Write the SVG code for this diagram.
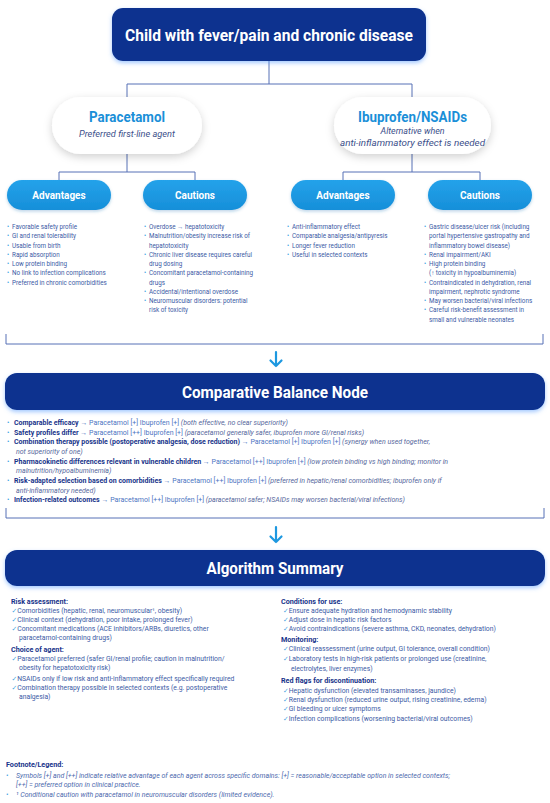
<svg xmlns="http://www.w3.org/2000/svg" width="550" height="803" viewBox="0 0 550 803">
<defs>
<filter id="glow" x="-5%" y="-30%" width="110%" height="180%"><feDropShadow dx="0" dy="2" stdDeviation="2" flood-color="#5a9cff" flood-opacity="0.55"/></filter>
<filter id="soft" x="-20%" y="-30%" width="140%" height="180%"><feDropShadow dx="0" dy="3" stdDeviation="4" flood-color="#000" flood-opacity="0.18"/></filter>
<filter id="psh" x="-10%" y="-30%" width="120%" height="180%"><feDropShadow dx="0" dy="1.5" stdDeviation="1.5" flood-color="#1a6fb0" flood-opacity="0.3"/></filter>
<linearGradient id="pg" x1="0" y1="0" x2="0" y2="1"><stop offset="0" stop-color="#25a2ea"/><stop offset="1" stop-color="#168fd9"/></linearGradient>
</defs>
<style>
text{font-family:Roboto,"Liberation Sans",sans-serif}
.hd{font-weight:700;fill:#fff;text-anchor:middle}
.nav{fill:#0b318f}
.pill{fill:#fff}
.pt{font-weight:700;fill:#1a8fd8;text-anchor:middle;font-size:15px}
.ps{font-style:italic;fill:#3c4f8a;text-anchor:middle;font-size:8.5px}
.ap{fill:url(#pg)}
.b{font-size:6.3px;fill:#3b5aa5}
.dot{fill:#38a0e2}
.conn{fill:none;stroke:#5670b6;stroke-width:1}
.arr{fill:none;stroke:#1d98e0;stroke-width:2.2;stroke-linecap:round;stroke-linejoin:round}
.bl{font-size:7px;fill:#4d75c2}
.bb{font-weight:700;fill:#17338a}
.it{font-style:italic;fill:#56689c}
.al{font-size:6.8px;fill:#3b5aa5}
.ah{font-weight:700;fill:#17338a;font-size:7.2px}
.ck{fill:#38a0e2;font-family:"DejaVu Sans",sans-serif}
.fn{font-size:7px;font-style:italic;fill:#4d6aae}
</style>

<g id="connectors">
<path class="conn" d="M269,61 V84 M127,84 H412 M127,84 V97 M412,84 V97"/>
<path class="conn" d="M127,154 V172 M59,172 H195 M59,172 V180 M195,172 V180"/>
<path class="conn" d="M412,154 V172 M343,172 H480 M343,172 V180 M480,172 V180"/>
<path class="conn" d="M6,334 V344 H543 V334"/>
<path class="arr" d="M276,352 V366 M270.5,360.5 L276,366 L281.5,360.5"/>
<path class="conn" d="M6,508 V518 H544 V508"/>
<path class="arr" d="M276,527 V542 M270.5,536.5 L276,542 L281.5,536.5"/>
</g>

<g id="root">
<rect class="nav" x="112" y="8" width="314" height="53" rx="11" filter="url(#glow)"/>
<text class="hd" x="269" y="40.5" font-size="16" textLength="288" lengthAdjust="spacingAndGlyphs">Child with fever/pain and chronic disease</text>
</g>

<g id="paracetamol">
<rect class="pill" x="52" y="97" width="150" height="57" rx="28.5" filter="url(#soft)"/>
<text class="pt" x="127" y="122" textLength="76" lengthAdjust="spacingAndGlyphs">Paracetamol</text>
<text class="ps" x="127" y="137" textLength="96" lengthAdjust="spacingAndGlyphs">Preferred first-line agent</text>
</g>

<g id="ibuprofen">
<rect class="pill" x="334" y="97" width="157" height="57" rx="28.5" filter="url(#soft)"/>
<text class="pt" x="412.5" y="122" textLength="109" lengthAdjust="spacingAndGlyphs">Ibuprofen/NSAIDs</text>
<text class="ps" x="412.5" y="134" textLength="64" lengthAdjust="spacingAndGlyphs">Alternative when</text>
<text class="ps" x="412.5" y="145.5" textLength="145" lengthAdjust="spacingAndGlyphs">anti-inflammatory effect is needed</text>
</g>

<g id="para-advantages">
<rect class="ap" x="7" y="180" width="104" height="30" rx="15" filter="url(#psh)"/>
<text class="hd" x="59" y="198.5" font-size="10">Advantages</text>
<text class="b" y="229"><tspan class="dot" x="7">•</tspan><tspan x="12">Favorable safety profile</tspan></text>
<text class="b" y="238.25"><tspan class="dot" x="7">•</tspan><tspan x="12">GI and renal tolerability</tspan></text>
<text class="b" y="247.5"><tspan class="dot" x="7">•</tspan><tspan x="12">Usable from birth</tspan></text>
<text class="b" y="256.75"><tspan class="dot" x="7">•</tspan><tspan x="12">Rapid absorption</tspan></text>
<text class="b" y="266"><tspan class="dot" x="7">•</tspan><tspan x="12">Low protein binding</tspan></text>
<text class="b" y="275.25"><tspan class="dot" x="7">•</tspan><tspan x="12">No link to infection complications</tspan></text>
<text class="b" y="284.5"><tspan class="dot" x="7">•</tspan><tspan x="12">Preferred in chronic comorbidities</tspan></text>
</g>

<g id="para-cautions">
<rect class="ap" x="143" y="180" width="104" height="30" rx="15" filter="url(#psh)"/>
<text class="hd" x="195" y="198.5" font-size="10">Cautions</text>
<text class="b" y="229"><tspan class="dot" x="144">•</tspan><tspan x="149">Overdose → hepatotoxicity</tspan></text>
<text class="b" y="238.25"><tspan class="dot" x="144">•</tspan><tspan x="149">Malnutrition/obesity increase risk of</tspan></text>
<text class="b" y="247.5" x="149">hepatotoxicity</text>
<text class="b" y="256.75"><tspan class="dot" x="144">•</tspan><tspan x="149">Chronic liver disease requires careful</tspan></text>
<text class="b" y="266" x="149">drug dosing</text>
<text class="b" y="275.25"><tspan class="dot" x="144">•</tspan><tspan x="149">Concomitant paracetamol-containing</tspan></text>
<text class="b" y="284.5" x="149">drugs</text>
<text class="b" y="293.75"><tspan class="dot" x="144">•</tspan><tspan x="149">Accidental/intentional overdose</tspan></text>
<text class="b" y="303"><tspan class="dot" x="144">•</tspan><tspan x="149">Neuromuscular disorders: potential</tspan></text>
<text class="b" y="312.25" x="149">risk of toxicity</text>
</g>

<g id="ibu-advantages">
<rect class="ap" x="291" y="180" width="104" height="30" rx="15" filter="url(#psh)"/>
<text class="hd" x="343" y="198.5" font-size="10">Advantages</text>
<text class="b" y="229"><tspan class="dot" x="287">•</tspan><tspan x="292">Anti-inflammatory effect</tspan></text>
<text class="b" y="238.25"><tspan class="dot" x="287">•</tspan><tspan x="292">Comparable analgesia/antipyresis</tspan></text>
<text class="b" y="247.5"><tspan class="dot" x="287">•</tspan><tspan x="292">Longer fever reduction</tspan></text>
<text class="b" y="256.75"><tspan class="dot" x="287">•</tspan><tspan x="292">Useful in selected contexts</tspan></text>
</g>

<g id="ibu-cautions">
<rect class="ap" x="428" y="180" width="104" height="30" rx="15" filter="url(#psh)"/>
<text class="hd" x="480" y="198.5" font-size="10">Cautions</text>
<text class="b" y="229"><tspan class="dot" x="424">•</tspan><tspan x="429">Gastric disease/ulcer risk (including</tspan></text>
<text class="b" y="238.25" x="429">portal hypertensive gastropathy and</text>
<text class="b" y="247.5" x="429">inflammatory bowel disease)</text>
<text class="b" y="256.75"><tspan class="dot" x="424">•</tspan><tspan x="429">Renal impairment/AKI</tspan></text>
<text class="b" y="266"><tspan class="dot" x="424">•</tspan><tspan x="429">High protein binding</tspan></text>
<text class="b" y="275.25" x="429">(↑ toxicity in hypoalbuminemia)</text>
<text class="b" y="284.5"><tspan class="dot" x="424">•</tspan><tspan x="429">Contraindicated in dehydration, renal</tspan></text>
<text class="b" y="293.75" x="429">impairment, nephrotic syndrome</text>
<text class="b" y="303"><tspan class="dot" x="424">•</tspan><tspan x="429">May worsen bacterial/viral infections</tspan></text>
<text class="b" y="312.25"><tspan class="dot" x="424">•</tspan><tspan x="429">Careful risk-benefit assessment in</tspan></text>
<text class="b" y="321.5" x="429">small and vulnerable neonates</text>
</g>

<g id="balance">
<rect class="nav" x="5" y="373" width="540" height="37" rx="12" filter="url(#glow)"/>
<text class="hd" x="275" y="397.5" font-size="17" textLength="186" lengthAdjust="spacingAndGlyphs">Comparative Balance Node</text>
<text class="bl" y="425.4"><tspan class="dot" x="7">•</tspan><tspan x="14" class="bb">Comparable efficacy</tspan> → Paracetamol [+] Ibuprofen [+] <tspan class="it">(both effective, no clear superiority)</tspan></text>
<text class="bl" y="434.9"><tspan class="dot" x="7">•</tspan><tspan x="14" class="bb">Safety profiles differ</tspan> → Paracetamol [++] Ibuprofen [+] <tspan class="it">(paracetamol generally safer, ibuprofen more GI/renal risks)</tspan></text>
<text class="bl" y="444.4"><tspan class="dot" x="7">•</tspan><tspan x="14" class="bb">Combination therapy possible (postoperative analgesia, dose reduction)</tspan> → Paracetamol [+] Ibuprofen [+] <tspan class="it">(synergy when used together,</tspan></text>
<text class="bl it" x="16" y="453.9">not superiority of one)</text>
<text class="bl" y="463.9"><tspan class="dot" x="7">•</tspan><tspan x="14" class="bb">Pharmacokinetic differences relevant in vulnerable children</tspan> → Paracetamol [++] Ibuprofen [+] <tspan class="it">(low protein binding vs high binding; monitor in</tspan></text>
<text class="bl it" x="16" y="473.4">malnutrition/hypoalbuminemia)</text>
<text class="bl" y="483.4"><tspan class="dot" x="7">•</tspan><tspan x="14" class="bb">Risk-adapted selection based on comorbidities</tspan> → Paracetamol [++] Ibuprofen [+] <tspan class="it">(preferred in hepatic/renal comorbidities; ibuprofen only if</tspan></text>
<text class="bl it" x="16" y="492.9">anti-inflammatory needed)</text>
<text class="bl" y="502.4"><tspan class="dot" x="7">•</tspan><tspan x="14" class="bb">Infection-related outcomes</tspan> → Paracetamol [++] Ibuprofen [+] <tspan class="it">(paracetamol safer; NSAIDs may worsen bacterial/viral infections)</tspan></text>
</g>

<g id="algorithm">
<rect class="nav" x="5" y="550" width="540" height="36" rx="12" filter="url(#glow)"/>
<text class="hd" x="275" y="574" font-size="17" textLength="137" lengthAdjust="spacingAndGlyphs">Algorithm Summary</text>

<text class="ah" x="11" y="603.5">Risk assessment:</text>
<text class="al" y="612.9"><tspan class="ck" x="11.5">✓</tspan>Comorbidities (hepatic, renal, neuromuscular¹, obesity)</text>
<text class="al" y="622"><tspan class="ck" x="11.5">✓</tspan>Clinical context (dehydration, poor intake, prolonged fever)</text>
<text class="al" y="631.1"><tspan class="ck" x="11.5">✓</tspan>Concomitant medications (ACE inhibitors/ARBs, diuretics, other</text>
<text class="al" x="19" y="640.3">paracetamol-containing drugs)</text>
<text class="ah" x="11" y="651.9">Choice of agent:</text>
<text class="al" y="661.3"><tspan class="ck" x="11.5">✓</tspan>Paracetamol preferred (safer GI/renal profile; caution in malnutrition/</text>
<text class="al" x="19" y="670.1">obesity for hepatotoxicity risk)</text>
<text class="al" y="680.5"><tspan class="ck" x="11.5">✓</tspan>NSAIDs only if low risk and anti-inflammatory effect specifically required</text>
<text class="al" y="689.9"><tspan class="ck" x="11.5">✓</tspan>Combination therapy possible in selected contexts (e.g. postoperative</text>
<text class="al" x="19" y="699.1">analgesia)</text>

<text class="ah" x="281" y="603.5">Conditions for use:</text>
<text class="al" y="612.9"><tspan class="ck" x="283">✓</tspan>Ensure adequate hydration and hemodynamic stability</text>
<text class="al" y="622"><tspan class="ck" x="283">✓</tspan>Adjust dose in hepatic risk factors</text>
<text class="al" y="631.1"><tspan class="ck" x="283">✓</tspan>Avoid contraindications (severe asthma, CKD, neonates, dehydration)</text>
<text class="ah" x="281" y="641.7">Monitoring:</text>
<text class="al" y="651.2"><tspan class="ck" x="283">✓</tspan>Clinical reassessment (urine output, GI tolerance, overall condition)</text>
<text class="al" y="660.6"><tspan class="ck" x="283">✓</tspan>Laboratory tests in high-risk patients or prolonged use (creatinine,</text>
<text class="al" x="291" y="670.7">electrolytes, liver enzymes)</text>
<text class="ah" x="281" y="683.3">Red flags for discontinuation:</text>
<text class="al" y="692.7"><tspan class="ck" x="283">✓</tspan>Hepatic dysfunction (elevated transaminases, jaundice)</text>
<text class="al" y="702.2"><tspan class="ck" x="283">✓</tspan>Renal dysfunction (reduced urine output, rising creatinine, edema)</text>
<text class="al" y="711"><tspan class="ck" x="283">✓</tspan>GI bleeding or ulcer symptoms</text>
<text class="al" y="720.5"><tspan class="ck" x="283">✓</tspan>Infection complications (worsening bacterial/viral outcomes)</text>
</g>

<g id="footnote">
<text class="ah" x="6" y="767">Footnote/Legend:</text>
<text class="fn" y="777.5"><tspan class="dot" x="6">•</tspan><tspan x="16">Symbols [+] and [++] indicate relative advantage of each agent across specific domains: [+] = reasonable/acceptable option in selected contexts;</tspan></text>
<text class="fn" x="16" y="787">[++] = preferred option in clinical practice.</text>
<text class="fn" y="797"><tspan class="dot" x="6">•</tspan><tspan x="16">¹ Conditional caution with paracetamol in neuromuscular disorders (limited evidence).</tspan></text>
</g>
</svg>
